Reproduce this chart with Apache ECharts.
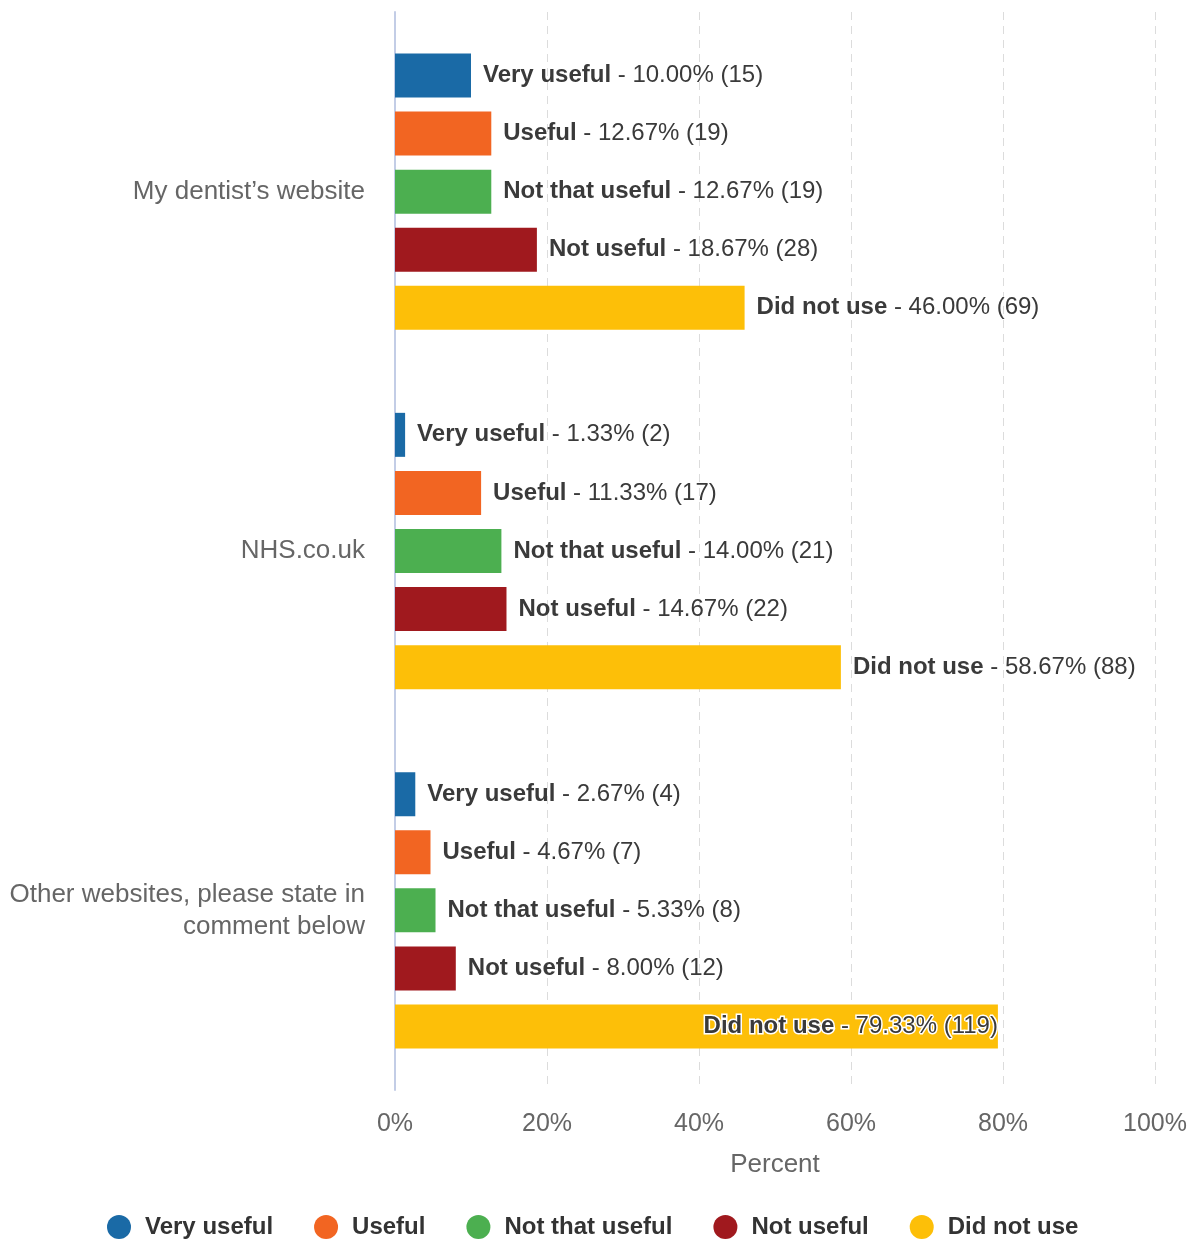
<!DOCTYPE html>
<html>
<head>
<meta charset="utf-8">
<script src="https://cdn.jsdelivr.net/npm/echarts@6/dist/echarts.min.js"></script>
<style>
  html, body { margin: 0; padding: 0; background: #fff; }
  #chart { width: 1195px; height: 1241px; }
</style>
</head>
<body>
<div id="chart"></div>
<script>
// Websites asked about
const websites = ['My dentist\u2019s website', 'NHS.co.uk', 'Other websites, please state in\ncomment below'];
// Answer options (one series each)
const answers = ['Very useful', 'Useful', 'Not that useful', 'Not useful', 'Did not use'];
const answerColors = ['#1a6aa6', '#f26522', '#4caf50', '#a0191e', '#fdbf08'];
// Percent of respondents per answer, indexed by website
const veryUsefulPct = [10.00, 1.33, 2.67];
const usefulPct = [12.67, 11.33, 4.67];
const notThatUsefulPct = [12.67, 14.00, 5.33];
const notUsefulPct = [18.67, 14.67, 8.00];
const didNotUsePct = [46.00, 58.67, 79.33];
// Respondent counts per answer, indexed by website
const veryUsefulN = [15, 2, 4];
const usefulN = [19, 17, 7];
const notThatUsefulN = [19, 21, 8];
const notUsefulN = [28, 22, 12];
const didNotUseN = [69, 88, 119];
// Axis ticks
const xTicks = [0, 20, 40, 60, 80, 100];

const pctSets = [veryUsefulPct, usefulPct, notThatUsefulPct, notUsefulPct, didNotUsePct];
const nSets = [veryUsefulN, usefulN, notThatUsefulN, notUsefulN, didNotUseN];

const FONT = '"Liberation Sans", Arial, sans-serif';

const labelRich = {
  b: { fontFamily: FONT, fontSize: 24, fontWeight: 'bold', color: '#3a3a3a' },
  n: { fontFamily: FONT, fontSize: 24, color: '#3a3a3a' }
};

const series = answers.map((name, si) => ({
  name: name,
  type: 'bar',
  barWidth: 44,
  barGap: '32%',
  itemStyle: { color: answerColors[si] },
  data: pctSets[si].map((v, ci) => {
    const item = { value: v, count: nSets[si][ci] };
    // Bars running close to the axis end carry their label inside
    if (v > 70) {
      item.label = {
        position: 'insideRight',
        distance: 0,
        rich: {
          b: Object.assign({}, labelRich.b, { textBorderColor: '#fff', textBorderWidth: 3 }),
          n: Object.assign({}, labelRich.n, { textBorderColor: '#fff', textBorderWidth: 3 })
        }
      };
    }
    return item;
  }),
  label: {
    show: true,
    position: 'right',
    distance: 12,
    formatter: p => '{b|' + p.seriesName + '}{n| - ' + p.value.toFixed(2) + '% (' + p.data.count + ')}',
    rich: labelRich
  }
}));

const chart = echarts.init(document.getElementById('chart'), null, { renderer: 'canvas' });
chart.setOption({
  animation: false,
  backgroundColor: '#fff',
  grid: { left: 395, right: 40, top: 12, bottom: 151, containLabel: false },
  legend: {
    top: 1210,
    left: 102,
    icon: 'circle',
    itemWidth: 24,
    itemHeight: 24,
    itemGap: 41,
    textStyle: { fontFamily: FONT, fontSize: 24, fontWeight: 'bold', color: '#333', padding: [0, 0, 0, 9] },
    data: answers
  },
  xAxis: {
    type: 'value',
    min: xTicks[0],
    max: xTicks[xTicks.length - 1],
    interval: xTicks[1] - xTicks[0],
    name: 'Percent',
    nameLocation: 'middle',
    nameGap: 62,
    nameTextStyle: { fontFamily: FONT, fontSize: 26, color: '#666' },
    axisLine: { show: false },
    axisTick: { show: false },
    axisLabel: { fontFamily: FONT, fontSize: 25, color: '#666', margin: 22, formatter: '{value}%' },
    splitLine: { show: true, lineStyle: { color: '#dcdcdc', type: [8, 6], width: 1 } }
  },
  yAxis: {
    type: 'category',
    inverse: true,
    data: websites,
    axisLine: { show: true, lineStyle: { color: '#c3cde6', width: 2 } },
    axisTick: { show: false },
    axisLabel: { fontFamily: FONT, fontSize: 26, color: '#666', margin: 30, lineHeight: 32, align: 'right' }
  },
  series: series
});
</script>
</body>
</html>
